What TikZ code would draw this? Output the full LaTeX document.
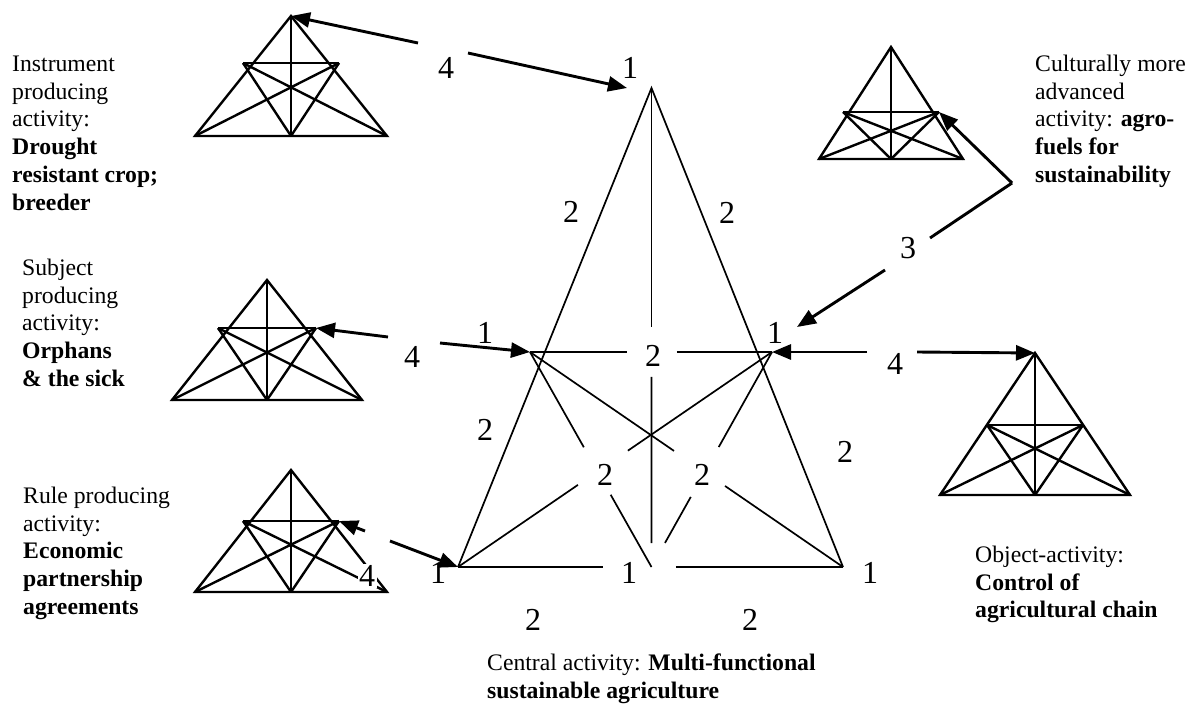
\documentclass[tikz,border=0pt]{standalone}
\usepackage{fontspec}
\setmainfont{Liberation Serif}
\usetikzlibrary{arrows.meta,calc}
\tikzset{
 tri/.style={line width=2.4pt},
 big/.style={line width=1.7pt},
 arr/.style={line width=2.9pt, -{Triangle[length=19pt,width=15pt]}},
 plainarr/.style={line width=2.9pt},
 num/.style={font=\fontsize{32}{36}\selectfont, inner sep=1pt},
 txt/.style={font=\fontsize{23.7}{27.8}\selectfont, align=left, anchor=north west, inner sep=0pt},
}
\newcommand\smalltri[7]{%
  \coordinate (#1a) at (#2,#3);
  \coordinate (#1b) at ({#2-#4},{#3+#5});
  \coordinate (#1c) at ({#2+#4},{#3+#5});
  \coordinate (#1m) at (#2,{#3+#5});
  \coordinate (#1d) at ({#2-#7},{#3+#6});
  \coordinate (#1e) at ({#2+#7},{#3+#6});
  \draw[tri] (#1a) -- (#1b) -- (#1c) -- cycle;
  \draw[tri] (#1a) -- (#1m);
  \draw[tri] (#1d) -- (#1e);
  \draw[tri] (#1d) -- (#1c);
  \draw[tri] (#1e) -- (#1b);
  \draw[tri] (#1d) -- (#1m);
  \draw[tri] (#1e) -- (#1m);
}
\begin{document}
\begin{tikzpicture}[x=1pt,y=-1pt]
\useasboundingbox (0,0) rectangle (1194,704);
\fill[white] (0,0) rectangle (1194,704);

% small triangles
\smalltri{T1}{291}{16}{96}{120}{47}{48}
\smalltri{T2}{891}{47}{72}{112}{65}{48}
\smalltri{T3}{267}{280}{95}{120}{48}{49}
\smalltri{T4}{291}{470}{96}{122}{51}{48}
\smalltri{T5}{1035}{353}{95}{142}{72}{48}

% central triangle
\coordinate (A) at (651.5,88);
\coordinate (B) at (458,567);
\coordinate (C) at (843,567);
\coordinate (M) at (651.5,567);
\coordinate (D) at (530,352);
\coordinate (E) at (772,352);
\draw[big] (B) -- (A) -- (C);
\draw[big] (B) -- ($(B)!0.377!(C)$);
\draw[big] ($(B)!0.566!(C)$) -- (C);
\draw[big] (A) -- ($(A)!0.499!(M)$);
\draw[big] ($(A)!0.603!(M)$) -- ($(A)!0.95!(M)$);
\draw[big] (D) -- ($(D)!0.401!(E)$);
\draw[big] ($(D)!0.607!(E)$) -- (E);
\draw[big] (D) -- ($(D)!0.443!(M)$);
\draw[big] ($(D)!0.664!(M)$) -- (M);
\draw[big] (E) -- ($(E)!0.442!(M)$);
\draw[big] ($(E)!0.674!(M)$) -- ($(E)!0.888!(M)$);
\draw[big] (D) -- ($(D)!0.46!(C)$);
\draw[big] ($(D)!0.623!(C)$) -- (C);
\draw[big] (E) -- ($(E)!0.459!(B)$);
\draw[big] ($(E)!0.618!(B)$) -- (B);

% arrows
\coordinate (g1a) at (418,43);
\coordinate (g1b) at (468,53);
\coordinate (Atip) at (627,88);
\draw[arr] (g1a) -- (T1a);
\draw[arr] (g1b) -- (Atip);

\coordinate (g2a) at (388,337);
\coordinate (g2b) at (440,343);
\draw[arr] (g2a) -- (T3e);
\draw[arr] (g2b) -- (D);

\coordinate (g3a) at (867,352);
\coordinate (g3b) at (917,352);
\draw[arr] (g3a) -- (E);
\draw[arr] (g3b) -- (T5a);

\coordinate (bend) at (1012,183);
\coordinate (g4a) at (930,238);
\coordinate (g4b) at (885,270);
\coordinate (Etip) at (797,327);
\draw[arr] (bend) -- (T2e);
\draw[plainarr] (bend) -- (g4a);
\draw[arr] (g4b) -- (Etip);

\coordinate (g5a) at (365,531);
\coordinate (g5b) at (390,541);
\draw[arr] (g5a) -- (T4e);
\draw[arr] (g5b) -- (B);

% numeric labels
\node[num] (n4a) at (446,68) {4};
\node[num] (n1a) at (630,68) {1};
\node[num] (n2a) at (571,212) {2};
\node[num] (n2b) at (727,213) {2};
\node[num] (n3) at (908,248) {3};
\node[num] (n4b) at (412,357) {4};
\node[num] (n1b) at (485,333) {1};
\node[num] (n2c) at (653,356) {2};
\node[num] (n1c) at (775,333) {1};
\node[num] (n4c) at (895,364) {4};
\node[num] (n2d) at (485,430) {2};
\node[num] (n2e) at (845,452) {2};
\node[num] (n2f) at (605,475) {2};
\node[num] (n2g) at (702,475) {2};
\node[num] (n1d) at (438,573) {1};
\node[num] (n1e) at (629,573) {1};
\node[num] (n1f) at (870,573) {1};
\node[num, fill=white, inner sep=1.5pt] (n4d) at (367,576) {4};
\node[num] (n2h) at (533,620) {2};
\node[num] (n2i) at (750,620) {2};

% text blocks
\node[txt] (tInst) at (12,53) {\rule{0pt}{18pt}Instrument\\producing\\activity:\\\textbf{Drought}\\\textbf{resistant crop;}\\\textbf{breeder}};
\node[txt] (tCult) at (1035,53) {\rule{0pt}{18pt}Culturally more\\advanced\\activity: \textbf{agro-}\\\textbf{fuels for}\\\textbf{sustainability}};
\node[txt] (tSubj) at (22,257) {\rule{0pt}{18pt}Subject\\producing\\activity:\\\textbf{Orphans}\\\textbf{\& the sick}};
\node[txt] (tRule) at (23,485) {\rule{0pt}{18pt}Rule producing\\activity:\\\textbf{Economic}\\\textbf{partnership}\\\textbf{agreements}};
\node[txt] (tObj) at (975,544) {\rule{0pt}{18pt}Object-activity:\\\textbf{Control of}\\\textbf{agricultural chain}};
\node[txt] (tCent) at (487,652) {\rule{0pt}{18pt}Central activity: \textbf{Multi-functional}\\\textbf{sustainable agriculture}};
\end{tikzpicture}
\end{document}
